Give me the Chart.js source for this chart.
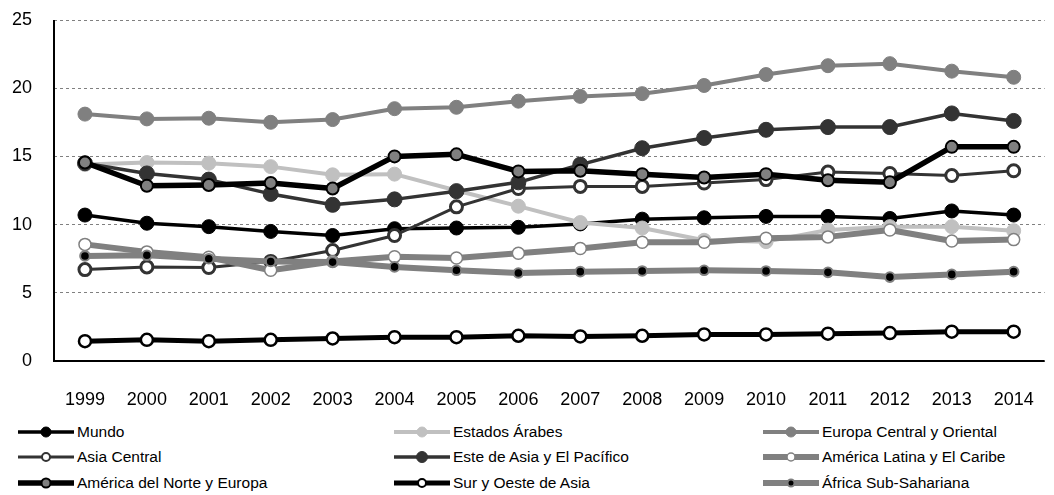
<!DOCTYPE html>
<html>
<head>
<meta charset="utf-8">
<script src="https://cdn.jsdelivr.net/npm/chart.js@4"></script>
<style>
  html, body { margin: 0; padding: 0; background: #fff; overflow: hidden; width: 1054px; height: 495px; }
  #wrap { position: absolute; left: 0; top: 0; width: 1062px; height: 410px; }
  .lg-item { position: absolute; height: 20px; }
  .lg-item canvas { position: absolute; left: 0; top: 0; }
  .lg-item span { position: absolute; top: 0; line-height: 20px; white-space: nowrap;
    font-family: "Liberation Sans", Arial, sans-serif; font-size: 15.5px; color: #000; }
</style>
</head>
<body>
<div id="wrap"><canvas id="c" width="1062" height="410"></canvas></div>
<div id="legend"></div>
<script>
const years = ['1999','2000','2001','2002','2003','2004','2005','2006','2007','2008','2009','2010','2011','2012','2013','2014'];
const yTicks = [0, 5, 10, 15, 20, 25];

const mundo       = [10.7, 10.1, 9.85, 9.5, 9.2, 9.7, 9.75, 9.8, 10.05, 10.4, 10.5, 10.6, 10.6, 10.45, 11.0, 10.7];
const arabes      = [14.4, 14.55, 14.5, 14.25, 13.65, 13.7, 12.5, 11.35, 10.15, 9.75, 8.85, 8.75, 9.6, 9.85, 9.85, 9.55];
const europaCO    = [18.1, 17.75, 17.8, 17.5, 17.7, 18.5, 18.6, 19.05, 19.4, 19.6, 20.2, 21.0, 21.65, 21.8, 21.25, 20.8];
const asiaCentral = [6.7, 6.9, 6.85, 7.3, 8.1, 9.2, 11.3, 12.65, 12.8, 12.8, 13.05, 13.3, 13.85, 13.75, 13.6, 13.95];
const esteAsia    = [14.5, 13.75, 13.3, 12.25, 11.45, 11.85, 12.45, 13.1, 14.4, 15.6, 16.35, 16.95, 17.15, 17.15, 18.15, 17.6];
const latam       = [8.55, 8.0, 7.6, 6.65, 7.3, 7.65, 7.55, 7.9, 8.25, 8.7, 8.7, 9.0, 9.1, 9.6, 8.8, 8.9];
const norteEuropa = [14.55, 12.85, 12.9, 13.05, 12.65, 15.0, 15.15, 13.9, 13.95, 13.7, 13.45, 13.7, 13.25, 13.1, 15.7, 15.7];
const surOeste    = [1.45, 1.55, 1.45, 1.55, 1.65, 1.75, 1.75, 1.85, 1.8, 1.85, 1.95, 1.95, 2.0, 2.05, 2.15, 2.15];
const africa      = [7.7, 7.75, 7.5, 7.3, 7.25, 6.9, 6.65, 6.45, 6.55, 6.6, 6.65, 6.6, 6.5, 6.15, 6.35, 6.55];

const seriesNames = ['Mundo', 'Estados Árabes', 'Europa Central y Oriental', 'Asia Central',
  'Este de Asia y El Pacífico', 'América Latina y El Caribe', 'América del Norte y Europa',
  'Sur y Oeste de Asia', 'África Sub-Sahariana'];
const seriesData = [mundo, arabes, europaCO, asiaCentral, esteAsia, latam, norteEuropa, surOeste, africa];

// styles: line color, line width, point fill, point border, point border width, radius, legend radius
const styles = [
  { c: '#000000', w: 3.5, f: '#000000', b: '#000000', bw: 1,   r: 7,   lr: 5 },
  { c: '#c0c0c0', w: 4,   f: '#c0c0c0', b: '#c0c0c0', bw: 1,   r: 7,   lr: 5 },
  { c: '#808080', w: 4,   f: '#808080', b: '#808080', bw: 1,   r: 7,   lr: 5 },
  { c: '#333333', w: 3,   f: '#ffffff', b: '#333333', bw: 3,   r: 6,   lr: 4 },
  { c: '#333333', w: 3.5, f: '#333333', b: '#333333', bw: 1,   r: 7.5, lr: 5.5 },
  { c: '#808080', w: 6,   f: '#ffffff', b: '#808080', bw: 1.5, r: 6,   lr: 4 },
  { c: '#000000', w: 5.5, f: '#808080', b: '#000000', bw: 2,   r: 6,   lr: 4.5 },
  { c: '#000000', w: 5,   f: '#ffffff', b: '#000000', bw: 2.5, r: 6,   lr: 4 },
  { c: '#808080', w: 6,   f: '#000000', b: '#808080', bw: 2,   r: 4.8, lr: 3.5 }
];

const n = seriesNames.length;
const datasets = seriesNames.map((name, i) => ({
  label: name,
  data: seriesData[i],
  borderColor: styles[i].c,
  borderWidth: styles[i].w,
  backgroundColor: styles[i].f,
  pointBackgroundColor: styles[i].f,
  pointBorderColor: styles[i].b,
  pointBorderWidth: styles[i].bw,
  pointRadius: styles[i].r,
  pointHoverRadius: styles[i].r,
  pointStyle: 'circle',
  tension: 0,
  borderJoinStyle: 'round',
  fill: false,
  order: n - 1 - i
}));

const tickFont = { family: '"Liberation Sans", Arial, sans-serif', size: 18 };

// solid black axis lines along the left and bottom edges of the plot area
const axisLines = {
  id: 'axisLines',
  beforeDatasetsDraw(chart) {
    const { ctx, chartArea: a } = chart;
    ctx.save();
    ctx.strokeStyle = '#000';
    ctx.lineWidth = 2;
    ctx.setLineDash([]);
    ctx.beginPath();
    ctx.moveTo(a.left, a.top);
    ctx.lineTo(a.left, a.bottom);
    ctx.lineTo(a.right, a.bottom);
    ctx.stroke();
    ctx.restore();
  }
};

new Chart(document.getElementById('c'), {
  type: 'line',
  data: { labels: years, datasets },
  plugins: [axisLines],
  options: {
    responsive: false,
    animation: false,
    events: [],
    layout: { padding: { top: 20, right: 0, bottom: 0, left: 0 } },
    plugins: { legend: { display: false }, tooltip: { enabled: false } },
    scales: {
      x: {
        type: 'category',
        offset: true,
        grid: { display: false, drawTicks: false },
        border: { display: false },
        ticks: { color: '#000', font: tickFont, padding: 28, maxRotation: 0, autoSkip: false },
        afterFit: s => { s.height = 49; }
      },
      y: {
        min: yTicks[0],
        max: yTicks[yTicks.length - 1],
        afterBuildTicks: s => { s.ticks = yTicks.map(v => ({ value: v })); },
        grid: { color: '#808080', lineWidth: 1, drawTicks: false },
        border: { display: false, dash: [3, 3] },
        ticks: { color: '#000', font: tickFont, padding: 22 },
        afterFit: s => { s.width = 54; s.paddingTop = 0; s.paddingBottom = 0; }
      }
    }
  }
});

// HTML legend (3 columns, row-major order)
const colLine = [18, 394, 763];
const rowCenter = [432, 457, 483];
const lineLen = 56;
const legend = document.getElementById('legend');
seriesNames.forEach((name, i) => {
  const col = i % 3, row = Math.floor(i / 3);
  const st = styles[i];
  const item = document.createElement('div');
  item.className = 'lg-item';
  item.style.left = colLine[col] + 'px';
  item.style.top = (rowCenter[row] - 10) + 'px';
  const cv = document.createElement('canvas');
  cv.width = lineLen; cv.height = 20;
  const ctx = cv.getContext('2d');
  ctx.strokeStyle = st.c; ctx.lineWidth = st.w;
  ctx.beginPath(); ctx.moveTo(0, 10); ctx.lineTo(lineLen, 10); ctx.stroke();
  ctx.beginPath(); ctx.arc(lineLen / 2, 10, st.lr, 0, Math.PI * 2);
  ctx.fillStyle = st.f; ctx.fill();
  ctx.lineWidth = Math.min(st.bw, 2); ctx.strokeStyle = st.b; ctx.stroke();
  const sp = document.createElement('span');
  sp.textContent = name;
  sp.style.left = (lineLen + 3) + 'px';
  item.appendChild(cv); item.appendChild(sp);
  legend.appendChild(item);
});
</script>
</body>
</html>
